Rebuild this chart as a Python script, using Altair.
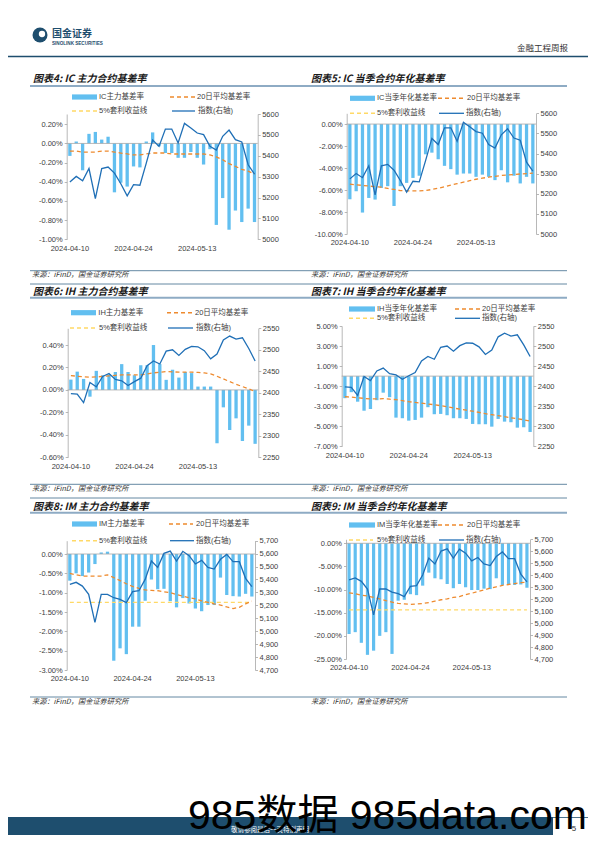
import altair as alt
import pandas as pd

# ---------------- data ----------------
dates = ["2024-04-10", "2024-04-11", "2024-04-12", "2024-04-15", "2024-04-16",
         "2024-04-17", "2024-04-18", "2024-04-19", "2024-04-22", "2024-04-23",
         "2024-04-24", "2024-04-25", "2024-04-26", "2024-04-29", "2024-04-30",
         "2024-05-06", "2024-05-07", "2024-05-08", "2024-05-09", "2024-05-10",
         "2024-05-13", "2024-05-14", "2024-05-15", "2024-05-16", "2024-05-17",
         "2024-05-20", "2024-05-21", "2024-05-22", "2024-05-23", "2024-05-24"]

ic_index = [5274, 5301, 5280, 5339, 5195, 5339, 5346, 5317, 5266, 5208,
            5262, 5259, 5365, 5475, 5445, 5528, 5528, 5461, 5555, 5533,
            5509, 5501, 5445, 5427, 5493, 5523, 5477, 5466, 5357, 5312]
ih_index = [2398, 2397, 2377, 2424, 2414, 2438, 2445, 2431, 2428, 2417,
            2426, 2434, 2463, 2474, 2467, 2497, 2500, 2487, 2501, 2508,
            2507, 2498, 2479, 2490, 2523, 2532, 2525, 2528, 2503, 2474]
im_index = [5362, 5378, 5349, 5285, 5069, 5285, 5285, 5259, 5246, 5221,
            5306, 5313, 5401, 5543, 5494, 5602, 5620, 5543, 5618, 5584,
            5520, 5548, 5494, 5481, 5556, 5594, 5538, 5538, 5409, 5344]

ic_main = [-0.13, 0.02, -0.28, 0.10, 0.12, 0.04, 0.07, -0.51, -0.41, -0.45,
           -0.24, -0.25, 0.02, 0.115, -0.03, -0.10, -0.10, -0.15, -0.15, -0.09,
           -0.15, -0.22, -0.06, -0.85, -0.57, -0.90, -0.70, -0.82, -0.68, -0.82]
ic_main_ma = [-0.08, -0.08, -0.09, -0.09, -0.09, -0.08, -0.08, -0.09, -0.10, -0.11,
              -0.12, -0.12, -0.11, -0.10, -0.10, -0.10, -0.11, -0.11, -0.11, -0.11,
              -0.11, -0.11, -0.12, -0.14, -0.17, -0.21, -0.24, -0.27, -0.29, -0.32]

ic_q = [-6.84, -6.11, -8.05, -6.72, -6.87, -5.81, -5.65, -7.45, -5.65, -5.35,
        -4.90, -4.70, -2.75, -2.60, -3.20, -3.80, -4.10, -4.60, -4.50, -4.50,
        -4.80, -4.60, -4.80, -5.10, -4.20, -5.30, -4.70, -5.40, -4.80, -5.40]
ic_q_ma = [-5.47, -5.53, -5.58, -5.64, -5.69, -5.74, -5.85, -5.95, -6.05, -6.07,
           -6.08, -6.07, -6.05, -5.95, -5.84, -5.70, -5.56, -5.42, -5.29, -5.15,
           -5.02, -4.92, -4.83, -4.75, -4.68, -4.63, -4.59, -4.54, -4.50, -4.47]

ih_main = [0.092, 0.163, 0.098, -0.06, 0.17, 0.13, 0.14, 0.16, 0.23, 0.16,
           0.13, 0.22, 0.22, 0.40, 0.23, 0.09, 0.18, 0.11, 0.16, 0.15,
           0.03, 0.03, 0.03, -0.475, -0.155, -0.357, -0.253, -0.455, -0.318, -0.48]
ih_main_ma = [0.128, 0.122, 0.117, 0.113, 0.116, 0.120, 0.125, 0.130, 0.134, 0.134,
              0.134, 0.134, 0.143, 0.152, 0.158, 0.163, 0.161, 0.158, 0.158, 0.158,
              0.156, 0.152, 0.143, 0.122, 0.098, 0.074, 0.050, 0.030, 0.010, -0.015]

ih_q = [-2.20, -1.60, -2.55, -3.45, -3.28, -2.40, -1.65, -2.10, -4.14, -4.20,
        -4.44, -4.37, -4.14, -3.10, -3.80, -3.77, -3.90, -4.20, -4.20, -4.27,
        -4.77, -4.80, -4.80, -5.04, -4.27, -4.54, -4.60, -5.14, -5.10, -5.57]
ih_q_ma = [-2.05, -2.10, -2.15, -2.22, -2.28, -2.27, -2.25, -2.30, -2.35, -2.45,
           -2.55, -2.62, -2.70, -2.78, -2.85, -2.95, -3.05, -3.18, -3.30, -3.40,
           -3.50, -3.62, -3.75, -3.85, -3.95, -4.05, -4.15, -4.25, -4.35, -4.50]

im_main = [-0.69, -0.50, -0.57, -0.48, -0.26, 0.04, 0.06, -2.76, -2.44, -2.59,
           -1.88, -1.88, -1.21, -0.66, -0.91, -0.90, -1.22, -1.38, -1.14, -1.28,
           -1.41, -1.48, -1.32, -1.32, -0.61, -1.06, -1.09, -1.10, -1.03, -1.10]
im_main_ma = [-0.50, -0.54, -0.57, -0.57, -0.57, -0.57, -0.54, -0.61, -0.69, -0.77,
              -0.84, -0.89, -0.93, -0.94, -0.95, -0.98, -1.00, -1.05, -1.09, -1.13,
              -1.16, -1.21, -1.25, -1.29, -1.32, -1.37, -1.41, -1.38, -1.29, -1.22]
im_main_arb = [-1.25, -1.25, -1.25, -1.25, -1.25, -1.25, -1.25, -1.25, -1.25, -1.25,
               -1.25, -1.25, -1.25, -1.25, -1.25, -1.25, -1.25, -1.25, -1.25, -1.25,
               -1.25, -1.25, -1.25, -1.25, -1.25, -1.25, -1.25, -1.25, -1.25, -1.25]

im_q = [-19.6, -19.2, -21.5, -24.1, -23.2, -20.0, -19.2, -23.9, -12.4, -12.2,
        -11.0, -11.2, -9.15, -6.34, -7.56, -7.78, -8.8, -9.7, -8.8, -9.5,
        -10.1, -10.1, -9.8, -9.9, -7.56, -9.0, -9.0, -9.0, -8.9, -9.6]
im_q_ma = [-10.7, -10.9, -11.2, -11.4, -11.7, -12.0, -12.4, -12.7, -13.0, -13.1,
           -13.2, -13.1, -13.0, -12.8, -12.5, -12.2, -12.0, -11.7, -11.5, -11.1,
           -10.8, -10.4, -10.1, -9.7, -9.4, -9.1, -8.9, -8.7, -8.5, -8.4]
im_q_arb = [-14.4, -14.4, -14.4, -14.4, -14.4, -14.4, -14.4, -14.4, -14.4, -14.4,
            -14.4, -14.4, -14.4, -14.4, -14.4, -14.4, -14.4, -14.4, -14.4, -14.4,
            -14.4, -14.4, -14.4, -14.4, -14.4, -14.4, -14.4, -14.4, -14.4, -14.4]

ticks_ic_main = [-1.0, -0.8, -0.6, -0.4, -0.2, 0.0, 0.2]
ticks_ic_q = [-10, -8, -6, -4, -2, 0]
ticks_ih_main = [-0.6, -0.4, -0.2, 0.0, 0.2, 0.4]
ticks_ih_q = [-7, -5, -3, -1, 1, 3, 5]
ticks_im_main = [-3.0, -2.5, -2.0, -1.5, -1.0, -0.5, 0.0]
ticks_im_q = [-25, -20, -15, -10, -5, 0]
ticks_ic_idx = [5000, 5100, 5200, 5300, 5400, 5500, 5600]
ticks_ih_idx = [2250, 2300, 2350, 2400, 2450, 2500, 2550]
ticks_im_idx = [4700, 4800, 4900, 5000, 5100, 5200, 5300, 5400, 5500, 5600, 5700]

# ---------------- styling / layout ----------------
W, H = 580, 827
FONT = "Liberation Sans, Noto Sans CJK SC, sans-serif"
CJK = "Noto Sans CJK SC, sans-serif"
BAR = "#62bff0"
IDX = "#1f6fb6"
MA = "#ee8a2e"
ARB = "#ffd966"
AX = "#a6a6a6"
LAB = "#404040"
NAVY = "#1e4e6e"

dummy = pd.DataFrame({"k": [0]})


def P(v):
    return v - 8


def text(s, x, y, size=7.5, color=LAB, align="left", font=FONT,
         weight="normal", style="normal", baseline="middle"):
    return alt.Chart(dummy).mark_text(
        text=s, align=align, baseline=baseline, fontSize=size, color=color,
        font=font, fontWeight=weight, fontStyle=style
    ).encode(x=alt.value(P(x)), y=alt.value(P(y)))


def hline(x0, x1, y, color, width=1.0, dash=None):
    kw = dict(color=color, strokeWidth=width)
    if dash:
        kw["strokeDash"] = dash
    return alt.Chart(dummy).mark_rule(**kw).encode(
        x=alt.value(P(x0)), x2=alt.value(P(x1)), y=alt.value(P(y)))


def rect(x0, x1, y0, y1, color):
    return alt.Chart(dummy).mark_rect(color=color).encode(
        x=alt.value(P(x0)), x2=alt.value(P(x1)),
        y=alt.value(P(y0)), y2=alt.value(P(y1)))


def panel(c):
    x0, x1 = P(c["x0"]), P(c["x1"])
    yb, yt = P(c["ybot"]), P(c["ytop"])
    cols = {"date": dates, "basis": c["basis"], "ma": c["ma"], "idx": c["idx"]}
    if c.get("arb") is not None:
        cols["arb"] = c["arb"]
    df = pd.DataFrame(cols)

    def xs():
        return alt.Scale(type="band", domain=dates, range=[x0, x1],
                         paddingInner=0.48, paddingOuter=0.24)

    def ls():
        return alt.Scale(domain=c["ldom"], range=[yb, yt], nice=False, zero=False)

    rs = alt.Scale(domain=c["rdom"], range=[yb, yt], nice=False, zero=False)

    xaxis = alt.Axis(orient="bottom", offset=P(c["xlab"]) - H,
                     values=[dates[0], dates[10], dates[20]], domain=False,
                     ticks=False, tickSize=0, labelPadding=0,
                     labelBaseline="middle", labelAngle=0, labelFontSize=7.5,
                     labelFont=FONT, labelColor=LAB, title=None, grid=False,
                     labelOverlap=False)
    laxis = alt.Axis(orient="left", offset=-x0, values=c["lticks"],
                     labelExpr="replace(format(datum.value, '.2f'), '\u2212', '-') + '%'",
                     domainColor=AX, domainWidth=0.8, tickColor=AX, tickSize=2.5,
                     tickWidth=0.8, labelPadding=2, labelFontSize=7.5,
                     labelFont=FONT, labelColor=LAB, grid=False, title=None,
                     labelOverlap=False, labelFlush=False, labelBound=False)
    raxis = alt.Axis(orient="right", offset=x1 - W, values=c["rticks"],
                     format=c["rfmt"], domainColor=AX, domainWidth=0.8,
                     tickColor=AX, tickSize=2.5, tickWidth=0.8, labelPadding=1.5,
                     labelFontSize=7.5, labelFont=FONT, labelColor=LAB,
                     grid=False, title=None, labelOverlap=False,
                     labelFlush=False, labelBound=False)

    base = alt.Chart(df)
    layers = [
        base.mark_bar(color=BAR).encode(
            x=alt.X("date:O", scale=xs(), axis=xaxis),
            y=alt.Y("basis:Q", scale=ls(), axis=laxis),
            y2=alt.Y2(datum=0)),
        alt.Chart(dummy).mark_rule(color=AX, strokeWidth=0.8).encode(
            x=alt.value(x0), x2=alt.value(x1),
            y=alt.Y(datum=0, scale=ls(), axis=None)),
    ]
    if c.get("arb") is not None:
        layers.append(base.mark_line(color=ARB, strokeWidth=1.3, strokeDash=[4, 3]).encode(
            x=alt.X("date:O", scale=xs(), axis=None),
            y=alt.Y("arb:Q", scale=ls(), axis=None)))
    layers.append(base.mark_line(color=MA, strokeWidth=1.3, strokeDash=[4, 3]).encode(
        x=alt.X("date:O", scale=xs(), axis=None),
        y=alt.Y("ma:Q", scale=ls(), axis=None)))
    layers.append(base.mark_line(color=IDX, strokeWidth=1.3).encode(
        x=alt.X("date:O", scale=xs(), axis=None),
        y=alt.Y("idx:Q", scale=rs, axis=raxis)))

    # legend
    lg = c["legend"]
    r1, r2 = lg["rows"]
    bx0, bx1, btx = lg["bar"]
    ox0, ox1, otx = lg["ma"]
    yx0, yx1, ytx = lg["arb"]
    ix0, ix1, itx = lg["idx"]
    layers += [
        rect(bx0, bx1, r1 - 2.6, r1 + 2.6, BAR),
        text(lg["bar_label"], btx, r1),
        hline(ox0, ox1, r1, MA, 1.5, [4, 3]),
        text("20日平均基差率", otx, r1),
        hline(yx0, yx1, r2, ARB, 1.5, [4, 3]),
        text("5%套利收益线", ytx, r2),
        hline(ix0, ix1, r2, IDX, 1.3),
        text("指数(右轴)", itx, r2),
        text(c["title"], c["tx"], c["ty"], size=10, color="#1a1a1a",
             font=CJK, weight="bold", style="italic"),
    ]
    return layers


panels = [
    dict(title="图表4: IC 主力合约基差率", tx=33, ty=79,
         x0=66.7, x1=257.7, ytop=114, ybot=239.3, xlab=248,
         ldom=[-1.0, 0.307], lticks=ticks_ic_main, rdom=[5000, 5600],
         rticks=ticks_ic_idx, rfmt="d",
         basis=ic_main, ma=ic_main_ma, idx=ic_index, arb=None,
         legend=dict(rows=(97, 111), bar=(72, 97, 99), ma=(170, 195, 197),
                     arb=(72, 97, 99), idx=(172, 195, 198), bar_label="IC主力基差率")),
    dict(title="图表5: IC 当季合约年化基差率", tx=311, ty=79,
         x0=346.7, x1=536, ytop=113.3, ybot=234, xlab=242,
         ldom=[-10, 0.98], lticks=ticks_ic_q, rdom=[5000, 5600],
         rticks=ticks_ic_idx, rfmt="d",
         basis=ic_q, ma=ic_q_ma, idx=ic_index, arb=None,
         legend=dict(rows=(98.3, 113.3), bar=(350, 375, 377), ma=(438, 465, 467),
                     arb=(350, 375, 377), idx=(439, 464, 466), bar_label="IC当季年化基差率")),
    dict(title="图表6: IH 主力合约基差率", tx=33, ty=292,
         x0=67.7, x1=258.3, ytop=328.3, ybot=457.3, xlab=466,
         ldom=[-0.6, 0.549], lticks=ticks_ih_main, rdom=[2250, 2550],
         rticks=ticks_ih_idx, rfmt="d",
         basis=ih_main, ma=ih_main_ma, idx=ih_index, arb=None,
         legend=dict(rows=(312.7, 328), bar=(71, 96, 98.3), ma=(167, 193, 195),
                     arb=(70, 96, 99), idx=(168, 193, 196), bar_label="IH主力基差率")),
    dict(title="图表7: IH 当季合约年化基差率", tx=311, ty=292,
         x0=341.7, x1=533.3, ytop=326, ybot=446.3, xlab=455,
         ldom=[-7, 5], lticks=ticks_ih_q, rdom=[2250, 2550],
         rticks=ticks_ih_idx, rfmt="d",
         basis=ih_q, ma=ih_q_ma, idx=ih_index, arb=None,
         legend=dict(rows=(309, 318.3), bar=(349, 375, 377), ma=(455, 480, 482),
                     arb=(349, 375, 377), idx=(455, 480, 482), bar_label="IH当季年化基差率")),
    dict(title="图表8: IM 主力合约基差率", tx=33, ty=506.5,
         x0=66.7, x1=255, ytop=540.7, ybot=670, xlab=678,
         ldom=[-3.0, 0.344], lticks=ticks_im_main, rdom=[4700, 5700],
         rticks=ticks_im_idx, rfmt=",d",
         basis=im_main, ma=im_main_ma, idx=im_index, arb=im_main_arb,
         legend=dict(rows=(524, 540.7), bar=(72, 97, 99), ma=(169, 193, 196),
                     arb=(72, 97, 99), idx=(170, 194, 196), bar_label="IM主力基差率")),
    dict(title="图表9: IM 当季合约年化基差率", tx=311, ty=506.5,
         x0=346, x1=530, ytop=539.3, ybot=659, xlab=667.7,
         ldom=[-25, 0.864], lticks=ticks_im_q, rdom=[4700, 5700],
         rticks=ticks_im_idx, rfmt=",d",
         basis=im_q, ma=im_q_ma, idx=im_index, arb=im_q_arb,
         legend=dict(rows=(525, 540), bar=(349, 375, 377), ma=(438, 465, 467),
                     arb=(349, 373, 377), idx=(439, 464, 466), bar_label="IM当季年化基差率")),
]

layers = []
# page header
layers += [
    alt.Chart(dummy).mark_circle(size=225, color=NAVY, opacity=1).encode(
        x=alt.value(P(40)), y=alt.value(P(35))),
    alt.Chart(dummy).mark_circle(size=40, color="white", opacity=1).encode(
        x=alt.value(P(42)), y=alt.value(P(34))),
    text("国金证券", 52, 33.5, size=10, color=NAVY, font=CJK, weight="bold"),
    text("SINOLINK SECURITIES", 52, 43.5, size=4.6, color=NAVY, weight="bold"),
    text("金融工程周报", 568, 48, size=8.5, color="#333333", align="right", font=CJK),
    hline(0, 600, 56.5, NAVY, 1.5),
]
# section lines
for y in (86, 297.7, 512.7):
    layers.append(hline(30, 567, y, "#8eabc4", 2))
for y in (270.7, 484.3, 697):
    layers.append(hline(30, 567, y, "#3d6a8c", 0.8))
for y in (284, 498):
    layers.append(hline(30, 567, y, "#3d6a8c", 0.8))
for y in (275, 489, 702):
    layers.append(text("来源：iFinD，国金证券研究所", 32, y, size=7.2,
                       color="#333333", font=CJK, style="italic"))
    layers.append(text("来源：iFinD，国金证券研究所", 311, y, size=7.2,
                       color="#333333", font=CJK, style="italic"))

for c in panels:
    layers += panel(c)

# footer
layers += [
    rect(0, 553, 817, 845, NAVY),
    hline(553, 600, 817.5, NAVY, 0.8),
    text("敬请参阅最后一页特别声明", 270, 830, size=6.5, color="white",
         align="center", font=CJK),
    text("5", 574, 829, size=8, color="#333333", align="center"),
    text("985数据 985data.com", 188, 829, size=41, color="black",
         baseline="alphabetic"),
]

chart = alt.layer(*layers).resolve_scale(
    x="independent", y="independent"
).properties(
    width=W, height=H, padding=0,
    autosize=alt.AutoSizeParams(type="none"),
    background="white",
).configure_view(stroke=None)

chart.save("out.html", embed_options={"renderer": "svg", "actions": False})
